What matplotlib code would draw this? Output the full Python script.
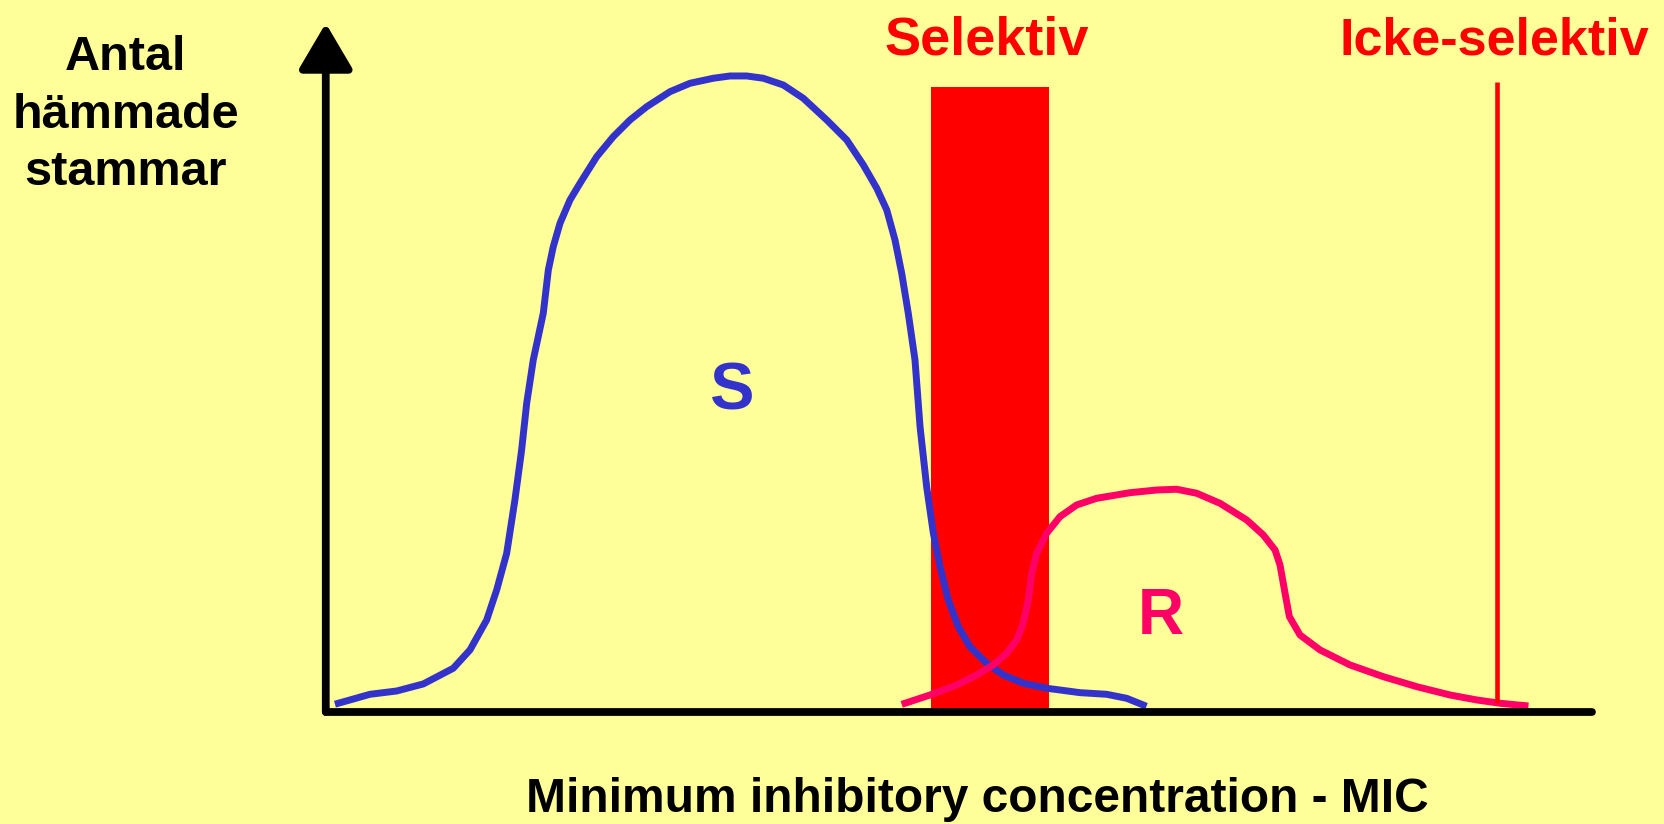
import numpy as np
import matplotlib.pyplot as plt

# Kurvor (x: MIC-axel 0-100, y: antal 0-100)
s_x = [0.99, 3.49, 5.60, 7.70, 10.07, 11.39, 12.71, 13.50, 14.29, 14.94, 15.47,
       15.87, 16.39, 17.18, 17.58, 17.97, 18.50, 19.29, 20.08, 21.40, 22.71,
       24.03, 25.35, 27.19, 28.77, 30.61, 31.93, 33.25, 34.56, 36.14, 37.72,
       39.57, 41.15, 42.46, 43.52, 44.31, 44.96, 45.49, 46.01, 46.54, 46.94,
       47.46, 47.99, 48.52, 49.17, 49.96, 50.88, 52.20, 53.52, 55.09, 56.94,
       59.57, 61.68, 63.26, 64.57]
s_y = [1.28, 2.58, 3.06, 4.08, 6.36, 9.02, 13.37, 17.73, 23.05, 30.79, 38.05,
       44.83, 51.12, 57.90, 64.18, 67.57, 70.96, 74.35, 76.77, 80.63, 83.54,
       85.96, 87.89, 90.07, 91.29, 92.02, 92.35, 92.35, 92.02, 91.04, 89.11,
       85.96, 83.06, 79.43, 76.05, 72.90, 68.54, 63.71, 57.90, 51.12, 41.43,
       32.72, 25.96, 21.11, 16.27, 12.40, 9.49, 7.08, 5.39, 4.18, 3.46,
       2.82, 2.58, 2.00, 1.03]

r_x = [45.75, 47.73, 49.83, 51.41, 52.73, 53.78, 54.57, 55.09, 55.49, 55.76,
       56.15, 56.94, 57.99, 59.31, 60.89, 63.52, 65.63, 67.21, 68.79, 70.63,
       72.74, 74.05, 74.98, 75.37, 75.77, 76.11, 76.95, 78.53, 80.90, 83.53,
       86.17, 88.80, 90.91, 92.75, 94.72]
r_y = [1.28, 2.48, 3.93, 5.39, 6.84, 8.54, 10.47, 12.89, 16.27, 20.15,
       23.05, 25.96, 28.37, 30.07, 31.04, 31.85, 32.24, 32.35, 31.77, 30.31,
       27.89, 25.71, 23.53, 21.36, 17.25, 13.85, 11.19, 9.02, 6.84, 5.14,
       3.69, 2.48, 1.76, 1.28, 0.93]

# Selektiv koncentrationsintervall och icke-selektiv nivå
sel_lo, sel_hi, sel_top = 47.80, 57.12, 90.75
icke_x, icke_lo, icke_top = 92.53, 1.28, 91.52

bg = '#FFFF99'
blue = '#3333CC'
pink = '#FF0066'
red = '#FF0000'

fig = plt.figure(figsize=(16.64, 8.24), dpi=100, facecolor=bg)
ax = fig.add_axes([0, 0, 1, 1])
ax.set_facecolor(bg)
ax.set_xlim(-25.73, 105.70)
ax.set_ylim(-16.25, 103.38)
ax.axis('off')

# Selektiv stapel
ax.bar((sel_lo + sel_hi) / 2, sel_top, width=sel_hi - sel_lo, color=red, zorder=1)

# Kurvor
ax.plot(s_x, s_y, color=blue, linewidth=5, solid_joinstyle='round', zorder=3)
ax.plot(r_x, r_y, color=pink, linewidth=5, solid_joinstyle='round', zorder=4)

# Icke-selektiv linje
ax.vlines(icke_x, icke_lo, icke_top, color=red, linewidth=3.3, zorder=5)

# Axlar
ax.plot([0, 100], [0, 0], color='black', linewidth=5.6, solid_capstyle='round', zorder=6)
ax.annotate('', xy=(0, 100), xytext=(0, 0),
            arrowprops=dict(arrowstyle='-|>,head_length=2.8,head_width=1.65',
                            color='black', linewidth=5.6, mutation_scale=10,
                            shrinkA=0, shrinkB=0, capstyle='round'), zorder=6)

font = 'Liberation Sans'
ax.text(-15.8, 76.53, 'Antal\nhämmade\nstammar', ha='center', va='baseline',
        multialignment='center', fontsize=35, fontweight='bold', family=font,
        linespacing=1.35)
ax.text(51.48, -14.5, 'Minimum inhibitory concentration - MIC', ha='center',
        va='baseline', fontsize=34.5, fontweight='bold', family=font)
ax.text(52.17, 95.54, 'Selektiv', ha='center', va='baseline', color=red,
        fontsize=39, fontweight='bold', family=font)
ax.text(92.3, 95.54, 'Icke-selektiv', ha='center', va='baseline', color=red,
        fontsize=37.5, fontweight='bold', family=font)
ax.text(32.02, 44.0, 'S', ha='center', va='baseline', color=blue,
        fontsize=48, fontweight='bold', family=font)
ax.text(65.96, 11.34, 'R', ha='center', va='baseline', color=pink,
        fontsize=46, fontweight='bold', family=font)

fig.savefig('out.png', dpi=100, facecolor=bg)
